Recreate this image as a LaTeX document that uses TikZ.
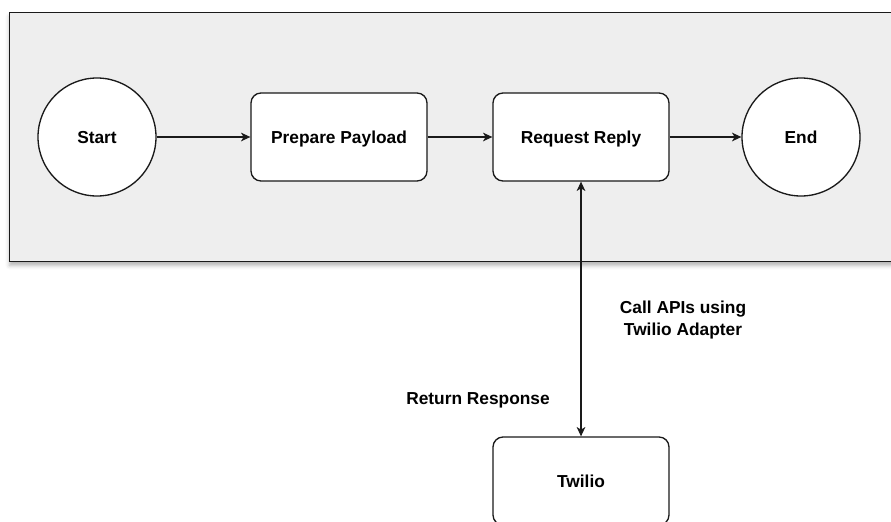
\documentclass[tikz,border=0pt]{standalone}
\usepackage{fontspec}
\setmainfont{Liberation Sans}
\usetikzlibrary{arrows.meta,shadows.blur}
\definecolor{bgfill}{HTML}{EEEEEE}
\definecolor{linec}{HTML}{1A1A1A}
\tikzset{
  every node/.style={font=\fontsize{13}{17}\selectfont\bfseries, text=black},
  circ/.style={circle, draw=linec, line width=1pt, fill=white, minimum size=88.5pt, inner sep=0pt, text depth=0pt},
  box/.style={rectangle, rounded corners=7.5pt, draw=linec, line width=1pt, fill=white, minimum width=132pt, minimum height=66pt, inner sep=0pt, text depth=0pt},
  conn/.style={draw=linec, line width=0.8pt, -{Stealth[length=7pt,width=6.5pt,inset=2pt]}},
  lbl/.style={align=center, inner sep=0pt}
}
\begin{document}
\begin{tikzpicture}[x=0.75pt,y=-0.75pt]
\useasboundingbox (0,0) rectangle (891,521);
\clip (0,0) rectangle (891,521);
\path[fill=bgfill, draw=linec, line width=1pt, blur shadow={shadow xshift=0pt, shadow yshift=-3pt, shadow blur radius=3pt, shadow opacity=30}] (9.5,12.5) rectangle (910,261.5);
\node[circ] (start) at (97,137) {Start};
\node[box] (prep) at (339,137) {Prepare Payload};
\node[box] (rr) at (581,137) {Request Reply};
\node[circ] (end) at (801,137) {End};
\node[box] (tw) at (581,481) {Twilio};
\draw[conn] (start) -- (prep);
\draw[conn] (prep) -- (rr);
\draw[conn] (rr) -- (end);
\draw[conn, {Stealth[length=7pt,width=6.5pt,inset=2pt]}-{Stealth[length=7pt,width=6.5pt,inset=2pt]}] (rr.south) -- (tw.north);
\node[lbl] (call) at (683,320) {Call APIs using\\Twilio Adapter};
\node[lbl] (ret) at (478,400) {Return Response};
\end{tikzpicture}
\end{document}
